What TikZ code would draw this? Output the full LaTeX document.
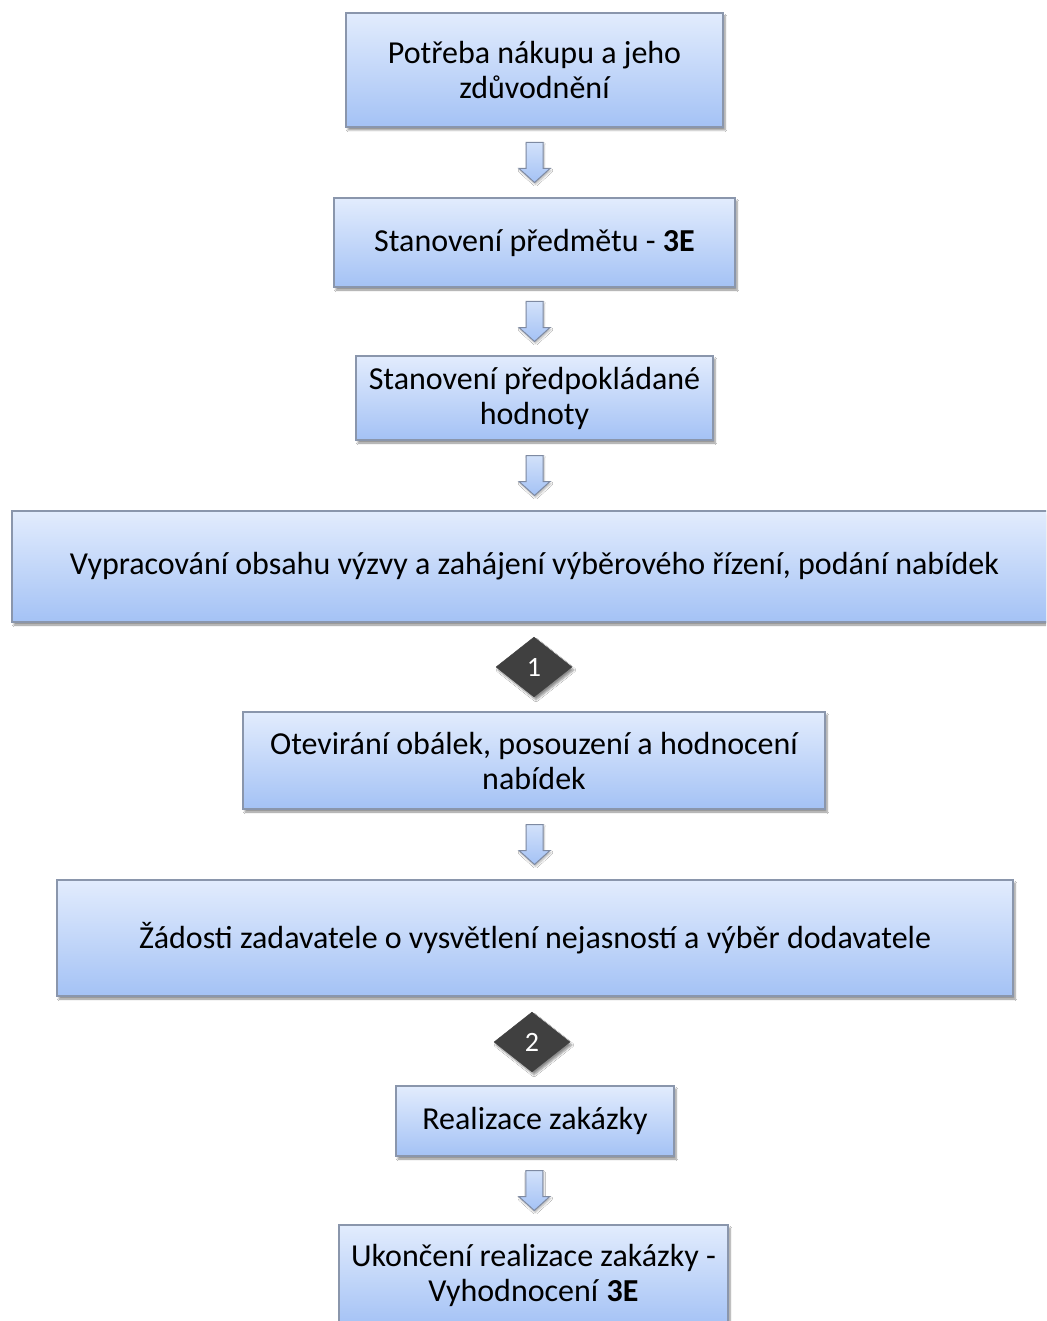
\documentclass[tikz,border=0pt]{standalone}
\usepackage{fontspec}
\setmainfont{Carlito}
\usetikzlibrary{shapes.geometric,shadows.blur,calc}
\definecolor{boxtop}{HTML}{E2ECFD}
\definecolor{boxbot}{HTML}{A4C2F5}
\definecolor{boxline}{HTML}{8A96AC}
\definecolor{arrline}{HTML}{7E8AA2}
\definecolor{arrtop}{HTML}{D2E1FA}
\definecolor{diafill}{HTML}{404040}
\tikzset{
  x=1pt,y=-1pt,
  stepbox/.style={rectangle, draw=boxline, line width=1.2pt, top color=boxtop, bottom color=boxbot,
    align=center, inner sep=0pt, font=\fontsize{32}{35}\selectfont,
    blur shadow={shadow xshift=2pt, shadow yshift=-3pt, shadow blur steps=6, shadow opacity=45}},
  decision/.style={diamond, fill=diafill, draw=diafill, minimum width=76pt, minimum height=60pt, inner sep=0pt,
    text=white, font=\fontsize{28}{30}\selectfont,
    blur shadow={shadow xshift=2pt, shadow yshift=-3pt, shadow blur steps=6, shadow opacity=45}},
  flowarrow/.style={draw=arrline, line width=1pt, top color=arrtop, bottom color=boxbot, line join=miter,
    blur shadow={shadow xshift=1pt, shadow yshift=-2pt, shadow blur steps=4, shadow opacity=30}},
}
\newcommand{\downarr}[1]{%
  \path[flowarrow] (#1) ++(-8.5,-20) -- ++(17,0) -- ++(0,26) -- ++(7,0) -- ++(-15.5,14) -- ++(-15.5,-14) -- ++(7,0) -- cycle;}
\begin{document}
\begin{tikzpicture}
\useasboundingbox (0,0) rectangle (1046,1321);
\clip (0,0) rectangle (1046,1321);
\fill[white] (0,0) rectangle (1046,1321);
\node[stepbox, minimum width=377pt, minimum height=114pt] (b1) at (534.5,70) {Potřeba nákupu a jeho\\zdůvodnění};
\node[stepbox, minimum width=401pt, minimum height=89pt] (b2) at (534.5,242.5) {Stanovení předmětu - \textbf{3E}};
\node[stepbox, minimum width=357pt, minimum height=84pt] (b3) at (534.5,398) {Stanovení předpokládané\\hodnoty};
\node[stepbox, minimum width=1045pt, minimum height=111pt] (b4) at (534.5,566.5) {Vypracování obsahu výzvy a zahájení výběrového řízení, podání nabídek};
\node[decision] (d1) at (534,667) {1};
\node[stepbox, minimum width=582pt, minimum height=97pt] (b5) at (534,760.5) {Otevirání obálek, posouzení a hodnocení\\nabídek};
\node[stepbox, minimum width=956pt, minimum height=116pt] (b6) at (535,938) {Žádosti zadavatele o vysvětlení nejasností a výběr dodavatele};
\node[decision] (d2) at (532,1042) {2};
\node[stepbox, minimum width=278pt, minimum height=70pt] (b7) at (535,1121) {Realizace zakázky};
\node[stepbox, minimum width=389pt, minimum height=101pt] (b8) at (533.5,1275.5) {Ukončení realizace zakázky -\\Vyhodnocení \textbf{3E}};
\coordinate (m1) at ($(b1.south)!0.5!(b2.north)$);
\coordinate (m2) at ($(b2.south)!0.5!(b3.north)$);
\coordinate (m3) at ($(b3.south)!0.5!(b4.north)$);
\coordinate (m4) at ($(b5.south)!0.5!(b6.north)$);
\coordinate (m5) at ($(b7.south)!0.5!(b8.north)$);
\downarr{m1}
\downarr{m2}
\downarr{m3}
\downarr{m4}
\downarr{m5}
\end{tikzpicture}
\end{document}
